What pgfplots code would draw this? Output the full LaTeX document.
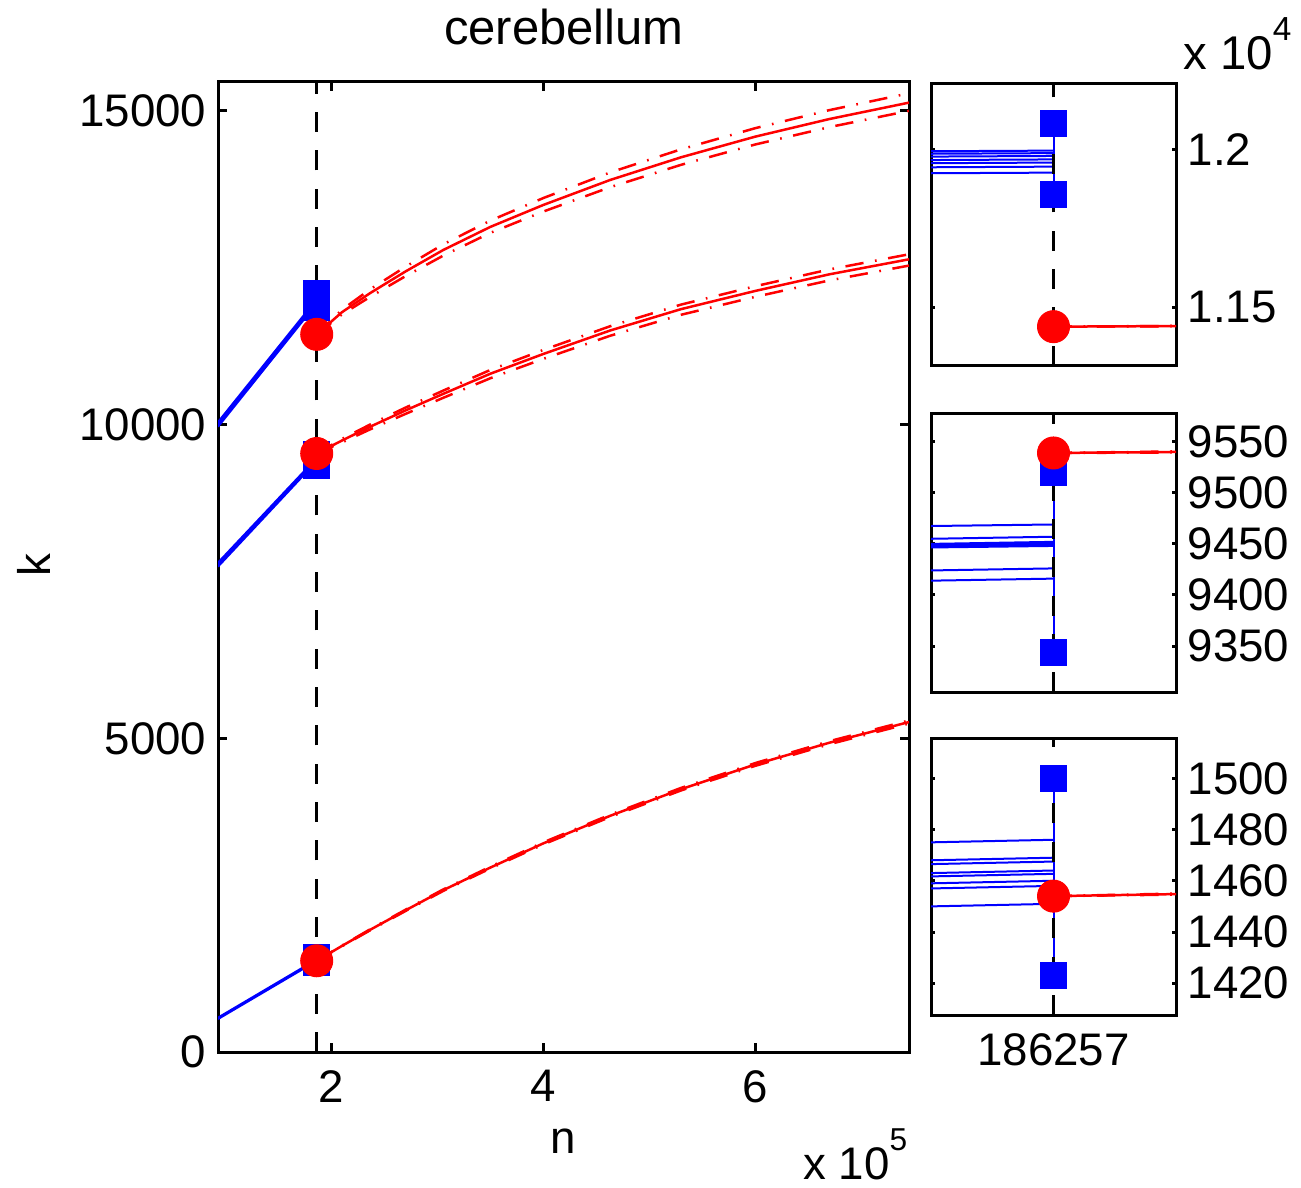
\documentclass[border=0pt]{standalone}
\usepackage{pgfplots}
\pgfplotsset{compat=1.18}
\usepackage{pgfplotstable}
\usepackage{fontspec}
\setmainfont{Liberation Sans}
\newcommand{\fs}{\fontsize{13.7}{16}\selectfont}

% red curves (n >= 186257): estimate and two bounds
\pgfplotstableread{
n solid upper lower
186257 11438 11438 11438
210000 11790 11830 11755
236800 12097 12157 12037
270000 12440 12515 12365
305700 12783 12873 12693
350000 13150 13250 13055
400000 13500 13610 13395
463200 13899 14019 13784
530000 14260 14387 14140
600000 14589 14724 14464
670000 14870 15012 14741
745028 15131 15280 15000
}\redtop
\pgfplotstableread{
n solid upper lower
186257 9539 9539 9539
210000 9745 9770 9715
236800 9967 10002 9925
270000 10225 10270 10170
305700 10490 10542 10427
350000 10810 10870 10738
400000 11125 11189 11047
463200 11500 11568 11416
530000 11840 11912 11750
600000 12130 12205 12036
670000 12395 12473 12298
745028 12634 12714 12534
}\redmid
\pgfplotstableread{
n solid upper lower
186257 1454 1454 1454
210000 1690 1695 1685
236800 1949 1957 1941
270000 2257 2267 2247
305700 2580 2592 2568
350000 2939 2953 2925
400000 3325 3341 3309
463200 3765 3783 3747
530000 4189 4209 4169
600000 4583 4605 4561
670000 4930 4954 4906
745028 5259 5284 5234
}\redbot

% blue lines from n/2 to n
\pgfplotstableread{
n k
93128 10040
186257 11998
nan nan
93128 10030
186257 11990
nan nan
93128 10020
186257 11981
nan nan
93128 10008
186257 11970
nan nan
93128 10000
186257 11960
nan nan
93128 9985
186257 11947
nan nan
93128 9965
186257 11928
nan nan
93128 7800
186257 9469
nan nan
93128 7785
186257 9457
nan nan
93128 7778
186257 9452
nan nan
93128 7772
186257 9450
nan nan
93128 7768
186257 9448
nan nan
93128 7745
186257 9426
nan nan
93128 7735
186257 9416
nan nan
93128 548
186257 1476
nan nan
93128 542
186257 1469
nan nan
93128 540
186257 1467.5
nan nan
93128 537
186257 1464
nan nan
93128 535
186257 1462.7
nan nan
93128 533
186257 1460
nan nan
93128 531
186257 1458
nan nan
93128 525
186257 1451
}\bluemain

% min / max markers at n
\pgfplotstableread{
n k
186257 12083
186257 11859
nan nan
186257 9520
186257 9344
nan nan
186257 1500
186257 1423
}\squares
\pgfplotstableread{
n k
186257 11438
186257 9539
186257 1454
}\circles

% zoomed panels, x = n - 186257
\pgfplotstableread{
d k
-100 11996
0 11998
nan nan
-100 11988
0 11990
nan nan
-100 11979
0 11981
nan nan
-100 11968
0 11970
nan nan
-100 11958
0 11960
nan nan
-100 11945
0 11947
nan nan
-100 11926
0 11928
}\bluetopz
\pgfplotstableread{
d k
-100 9467.5
0 9469
nan nan
-100 9455
0 9457
nan nan
-100 9450
0 9452
nan nan
-100 9448
0 9450
nan nan
-100 9446.5
0 9448
nan nan
-100 9424
0 9426
nan nan
-100 9414
0 9416
}\bluemidz
\pgfplotstableread{
d k
-100 1475
0 1476
nan nan
-100 1468
0 1469
nan nan
-100 1466.5
0 1467.5
nan nan
-100 1463
0 1464
nan nan
-100 1461.7
0 1462.7
nan nan
-100 1459
0 1460
nan nan
-100 1457
0 1458
nan nan
-100 1450
0 1451
}\bluebotz
\pgfplotstableread{
d solid upper lower
0 11438 11438 11438
100 11440 11440.5 11439.5
}\redtopz
\pgfplotstableread{
d solid upper lower
0 9539 9539 9539
100 9540 9540.5 9539.5
}\redmidz
\pgfplotstableread{
d solid upper lower
0 1454 1454 1454
100 1454.8 1455 1454.6
}\redbotz

\pgfplotsset{
  base/.style={scale only axis, anchor=south west, tick align=inside,
    axis line style={line width=0.9pt}, every tick/.style={black, line width=0.9pt},
    tick label style={font=\fs}, scaled ticks=false, unbounded coords=jump,
    xticklabel style={yshift=-2pt}},
  panel/.style={base, width=73.5pt, xmin=-100, xmax=100, xtick={0}, xticklabels={},
    yticklabel pos=right, major tick length=1.2pt},
  bl/.style={blue, line width=0.6pt},
  rs/.style={red, line width=0.75pt},
  rd/.style={red, line width=0.75pt, dash pattern=on 5.5pt off 3.5pt on 0.5pt off 3.5pt},
  vl/.style={black, line width=0.9pt, dash pattern=on 6pt off 5.5pt},
  sq/.style={only marks, mark=square*, mark size=3.9pt, blue, mark options={line width=0.3pt}},
  ci/.style={only marks, mark=*, mark size=4.8pt, red, mark options={line width=0.3pt}},
}

\begin{document}
\begin{tikzpicture}
\path[use as bounding box] (0,0) rectangle (390.3pt,356.1pt);

\begin{axis}[base, at={(65.4pt,40.5pt)}, width=207.3pt, height=291pt,
  xmin=93128, xmax=745028, ymin=0, ymax=15460,
  xtick={200000,400000,600000}, xticklabels={2,4,6},
  ytick={0,5000,10000,15000}, yticklabels={0,5000,10000,15000},
  major tick length=2.7pt]
\addplot[bl] table[x=n,y=k] {\bluemain};
\addplot[blue, line width=0.6pt] table[x=n,y=k] {\squares};
\addplot[sq] table[x=n,y=k] {\squares};
\addplot[vl] coordinates {(186257,0) (186257,15460)};
\addplot[rs] table[x=n,y=solid] {\redtop};
\addplot[rd] table[x=n,y=upper] {\redtop};
\addplot[rd] table[x=n,y=lower] {\redtop};
\addplot[rs] table[x=n,y=solid] {\redmid};
\addplot[rd] table[x=n,y=upper] {\redmid};
\addplot[rd] table[x=n,y=lower] {\redmid};
\addplot[rs] table[x=n,y=solid] {\redbot};
\addplot[rd] table[x=n,y=upper] {\redbot};
\addplot[rd] table[x=n,y=lower] {\redbot};
\addplot[ci] table[x=n,y=k] {\circles};
\end{axis}

\begin{axis}[panel, at={(279.3pt,246.4pt)}, height=84.7pt,
  ymin=11314, ymax=12212, ytick={11500,12000}, yticklabels={1.15,1.2}]
\addplot[bl] table[x=d,y=k] {\bluetopz};
\addplot[blue, line width=0.6pt] coordinates {(0,11859) (0,12083)};
\addplot[sq] coordinates {(0,12083) (0,11859)};
\addplot[vl] coordinates {(0,11314) (0,12212)};
\addplot[rs] table[x=d,y=solid] {\redtopz};
\addplot[rd] table[x=d,y=upper] {\redtopz};
\addplot[rd] table[x=d,y=lower] {\redtopz};
\addplot[ci] coordinates {(0,11438)};
\end{axis}

\begin{axis}[panel, at={(279.3pt,148.4pt)}, height=83.7pt,
  ymin=9304.7, ymax=9577.8, ytick={9350,9400,9450,9500,9550},
  yticklabels={9350,9400,9450,9500,9550}]
\addplot[bl] table[x=d,y=k] {\bluemidz};
\addplot[blue, line width=0.6pt] coordinates {(0,9344) (0,9520)};
\addplot[sq] coordinates {(0,9520) (0,9344)};
\addplot[vl] coordinates {(0,9304.7) (0,9577.8)};
\addplot[rs] table[x=d,y=solid] {\redmidz};
\addplot[rd] table[x=d,y=upper] {\redmidz};
\addplot[rd] table[x=d,y=lower] {\redmidz};
\addplot[ci] coordinates {(0,9539)};
\end{axis}

\begin{axis}[panel, at={(279.3pt,51.6pt)}, height=83pt,
  ymin=1407.6, ymax=1515.6, ytick={1420,1440,1460,1480,1500},
  yticklabels={1420,1440,1460,1480,1500}, xticklabels={186257}]
\addplot[bl] table[x=d,y=k] {\bluebotz};
\addplot[blue, line width=0.6pt] coordinates {(0,1423) (0,1500)};
\addplot[sq] coordinates {(0,1500) (0,1423)};
\addplot[vl] coordinates {(0,1407.6) (0,1515.6)};
\addplot[rs] table[x=d,y=solid] {\redbotz};
\addplot[rd] table[x=d,y=upper] {\redbotz};
\addplot[rd] table[x=d,y=lower] {\redbotz};
\addplot[ci] coordinates {(0,1454)};
\end{axis}

\node[font=\fontsize{14.7}{17}\selectfont, anchor=base] at (169.2pt,342.6pt) {cerebellum};
\node[font=\fs, anchor=base] at (168.9pt,10.2pt) {n};
\node[font=\fs, anchor=base, rotate=90] at (15pt,186.6pt) {k};
\node[font=\fs, anchor=base east, inner sep=0pt] at (272.4pt,2.4pt)
  {x 10\raisebox{0.62em}{\fontsize{9.5}{10}\selectfont 5}};
\node[font=\fontsize{14.2}{16}\selectfont, anchor=base east, inner sep=0pt] at (387.6pt,335.1pt)
  {x 10\raisebox{0.62em}{\fontsize{10}{10}\selectfont 4}};
\end{tikzpicture}
\end{document}
